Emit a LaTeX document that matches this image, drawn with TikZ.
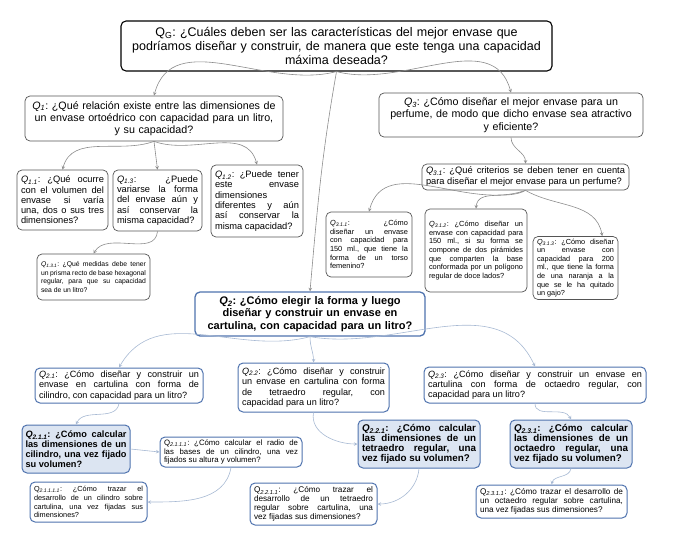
\documentclass[tikz,border=0pt]{standalone}
\usepackage{fontspec}
\setmainfont{Liberation Sans}
\definecolor{boxgray}{HTML}{555555}
\definecolor{arcgray}{HTML}{8C8C8C}
\definecolor{boxblue}{HTML}{4F73AE}
\definecolor{keyfill}{HTML}{DCE5F2}
\definecolor{arcblue}{HTML}{A7B9D3}
\newcommand{\fsz}[2]{\fontsize{#1}{#2}\selectfont}
\newcommand{\qlab}[1]{\textit{Q\textsubscript{#1}}:}
\newcommand{\qlabu}[1]{Q\textsubscript{\textit{#1}}:}
\frenchspacing
\begin{document}
\begin{tikzpicture}
  [x=1pt, y=-1pt,
  box/.style={shape=rectangle, rounded corners=5pt, draw=boxgray, fill=white, line width=0.7pt,
    inner xsep=4pt, inner ysep=2pt, align=justify,
    execute at begin node={\sloppy\hyphenpenalty=10000}},
  root/.style={box, draw=black, line width=1.1pt, align=center},
  bluebox/.style={box, draw=boxblue, line width=1pt},
  keybox/.style={bluebox, fill=keyfill},
  arc/.style={->, >=stealth, draw=arcgray, line width=0.6pt},
  bluearc/.style={arc, draw=arcblue}]

  \useasboundingbox (0,0) rectangle (676,544);

  \node (qg) [root, text width=423pt, minimum height=50pt, font=\fsz{12.5}{14}] at (336.5,46)
    {Q\textsubscript{G}: ¿Cuáles deben ser las características del mejor envase que\\podríamos diseñar y construir, de manera que este tenga una capacidad\\máxima deseada?};

  \node (q1) [box, align=center, text width=252pt, inner xsep=3pt, minimum height=45pt, font=\fsz{10.7}{12.3}] at (154,118.5)
    {\qlab{1} ¿Qué relación existe entre las dimensiones de\\un envase ortoédrico con capacidad para un litro,\\y su capacidad?};
  \node (q3) [box, align=center, text width=258pt, inner xsep=3pt, minimum height=44pt, font=\fsz{10.7}{12.3}] at (511,115)
    {\qlab{3} ¿Cómo diseñar el mejor envase para un\\perfume, de modo que dicho envase sea atractivo\\y eficiente?};
  \node (q31) [box, text width=199pt, minimum height=26pt, font=\fsz{9.3}{11}] at (525.5,177)
    {\qlab{3.1} ¿Qué criterios se deben tener en cuenta\linebreak para diseñar el mejor envase para un perfume?};

  \node (q11) [box, text width=83pt, minimum height=60pt, font=\fsz{9.3}{10.3}] at (62.5,200)
    {\qlab{1.1} ¿Qué ocurre\linebreak con el volumen del\linebreak envase si varía\linebreak una, dos o sus tres\linebreak dimensiones?};
  \node (q13) [box, text width=81pt, minimum height=61pt, font=\fsz{9.3}{10.3}] at (157.5,200.5)
    {\qlab{1.3} ¿Puede\linebreak variarse la forma\linebreak del envase aún y\linebreak así conservar la\linebreak misma capacidad?};
  \node (q12) [box, text width=84pt, minimum height=72pt, font=\fsz{9.3}{10.3}] at (257,201)
    {\qlab{1.2} ¿Puede tener\linebreak este envase\linebreak dimensiones\linebreak diferentes y aún\linebreak así conservar la\linebreak misma capacidad?};
  \node (q131) [box, text width=105pt, minimum height=46pt, font=\fsz{6.8}{8.7}] at (93.5,277)
    {\qlab{1.3.1} ¿Qué medidas debe tener\linebreak un prisma recto de base hexagonal\linebreak regular, para que su capacidad\linebreak sea de un litro?};

  \node (q311) [box, text width=78pt, minimum height=65pt, font=\fsz{7.4}{8.6}] at (369,244.5)
    {\qlab{3.1.1} ¿Cómo\linebreak diseñar un envase\linebreak con capacidad para\linebreak 150 ml., que tiene la\linebreak forma de un torso\linebreak femenino?};
  \node (q312) [box, text width=94pt, minimum height=83pt, font=\fsz{7.4}{8.6}] at (476,250.5)
    {\qlab{3.1.2} ¿Cómo diseñar un\linebreak envase con capacidad para\linebreak 150 ml., si su forma se\linebreak compone de dos pirámides\linebreak que comparten la base\linebreak conformada por un polígono\linebreak regular de doce lados?};
  \node (q313) [box, text width=77pt, minimum height=63pt, font=\fsz{7.3}{8.6}] at (575.5,268)
    {\qlab{3.1.3} ¿Cómo diseñar\linebreak un envase con\linebreak capacidad para 200\linebreak ml., que tiene la forma\linebreak de una naranja a la\linebreak que se le ha quitado\linebreak un gajo?};

  \node (q2) [bluebox, align=center, text width=222pt, minimum height=44pt, line width=1.3pt, font=\bfseries\fsz{11}{12.3}] at (310,314)
    {\qlab{2} ¿Cómo elegir la forma y luego\\diseñar y construir un envase en\\cartulina, con capacidad para un litro?};

  \node (q21) [bluebox, text width=160pt, minimum height=35pt, font=\fsz{9.1}{10.3}] at (119,385.5)
    {\qlab{2.1} ¿Cómo diseñar y construir un\linebreak envase en cartulina con forma de\linebreak cilindro, con capacidad para un litro?};
  \node (q22) [bluebox, text width=143pt, minimum height=49pt, font=\fsz{9.1}{10.3}] at (313.5,387.5)
    {\qlab{2.2} ¿Cómo diseñar y construir\linebreak un envase en cartulina con forma\linebreak de tetraedro regular, con\linebreak capacidad para un litro?};
  \node (q23) [bluebox, text width=214pt, minimum height=36pt, font=\fsz{9.1}{10.3}] at (535,385)
    {\qlab{2.3} ¿Cómo diseñar y construir un envase en\linebreak cartulina con forma de octaedro regular, con\linebreak capacidad para un litro?};

  \node (q211) [keybox, text width=101pt, minimum height=48pt, inner xsep=3.5pt, font=\bfseries\fsz{9.2}{9.8}] at (76,449)
    {\qlab{2.1.1} ¿Cómo calcular\linebreak las dimensiones de un\linebreak cilindro, una vez fijado\linebreak su volumen?};
  \node (q2111) [bluebox, text width=134pt, minimum height=30pt, font=\fsz{7.8}{8.7}] at (231,452)
    {\qlabu{2.1.1.1} ¿Cómo calcular el radio de\linebreak las bases de un cilindro, una vez\linebreak fijados su altura y volumen?};
  \node (q21111) [bluebox, text width=109pt, minimum height=40pt, font=\fsz{7.3}{8.7}] at (88.5,502)
    {\qlabu{2.1.1.1.1} ¿Cómo trazar el\linebreak desarrollo de un cilindro sobre\linebreak cartulina, una vez fijadas sus\linebreak dimensiones?};

  \node (q221) [keybox, text width=114pt, minimum height=48pt, font=\bfseries\fsz{9.8}{9.8}] at (419,444)
    {\qlab{2.2.1} ¿Cómo calcular\linebreak las dimensiones de un\linebreak tetraedro regular, una\linebreak vez fijado su volumen?};
  \node (q231) [keybox, text width=114pt, minimum height=48pt, font=\bfseries\fsz{9.8}{9.8}] at (571,444)
    {\qlab{2.3.1} ¿Cómo calcular\linebreak las dimensiones de un\linebreak octaedro regular, una\linebreak vez fijado su volumen?};
  \node (q2211) [bluebox, text width=119pt, minimum height=42pt, font=\fsz{8.2}{8.9}] at (313.5,504)
    {\qlabu{2.2.1.1} ¿Cómo trazar el\linebreak desarrollo de un tetraedro\linebreak regular sobre cartulina, una\linebreak vez fijadas sus dimensiones?};
  \node (q2311) [bluebox, text width=143pt, minimum height=33pt, font=\fsz{8.2}{9}] at (551.5,501.5)
    {\qlabu{2.3.1.1} ¿Cómo trazar el desarrollo de\linebreak un octaedro regular sobre cartulina,\linebreak una vez fijadas sus dimensiones?};

  % upper branches
  \draw [arc] (qg.south) to [out=195,in=75] (q1.north);
  \draw [arc] (qg.south) to [out=-15,in=105] (q3.north);
  \draw [arc] (qg.south) to [out=-100,in=85] (q2.north);
  \draw [arc] (q1.south) to [out=200,in=75] (q11.north);
  \draw [arc] (q1.south) -- (q13.north);
  \draw [arc] (q1.south) to [out=-20,in=105] (q12.north);
  \draw [arc] (q13.south) to [out=-95,in=60] (q131.north);
  \draw [arc] (q3.south) to [out=-90,in=90] (q31.north);
  \draw [arc] (q31.south) to [out=200,in=75] (q311.north);
  \draw [arc] (q31.south) to [out=-150,in=85] (q312.north);
  \draw [arc] (q31.south) to [out=-30,in=100] (q313.50);

  % Q2 branches
  \draw [bluearc] (q2.south) to [out=195,in=60] (q21.north);
  \draw [bluearc] (q2.south) to [out=-90,in=90] (q22.north);
  \draw [bluearc] (q2.south) to [out=-10,in=115] (q23.north);
  \draw [bluearc] (q21.south) to [out=-100,in=65] (q211.north);
  \draw [bluearc] (q211.east) -- (q2111.west);
  \draw [bluearc] (q2111.south) to [out=-100,in=0] (q21111.east);
  \draw [bluearc] (q22.south) to [out=-100,in=180] (q221.west);
  \draw [bluearc] (q221.south) to [out=-95,in=0] (q2211.east);
  \draw [bluearc] (q23.south) to [out=-90,in=115] (q231.north);
  \draw [bluearc] (q231.south) to [out=-100,in=75] (q2311.north);
\end{tikzpicture}
\end{document}
